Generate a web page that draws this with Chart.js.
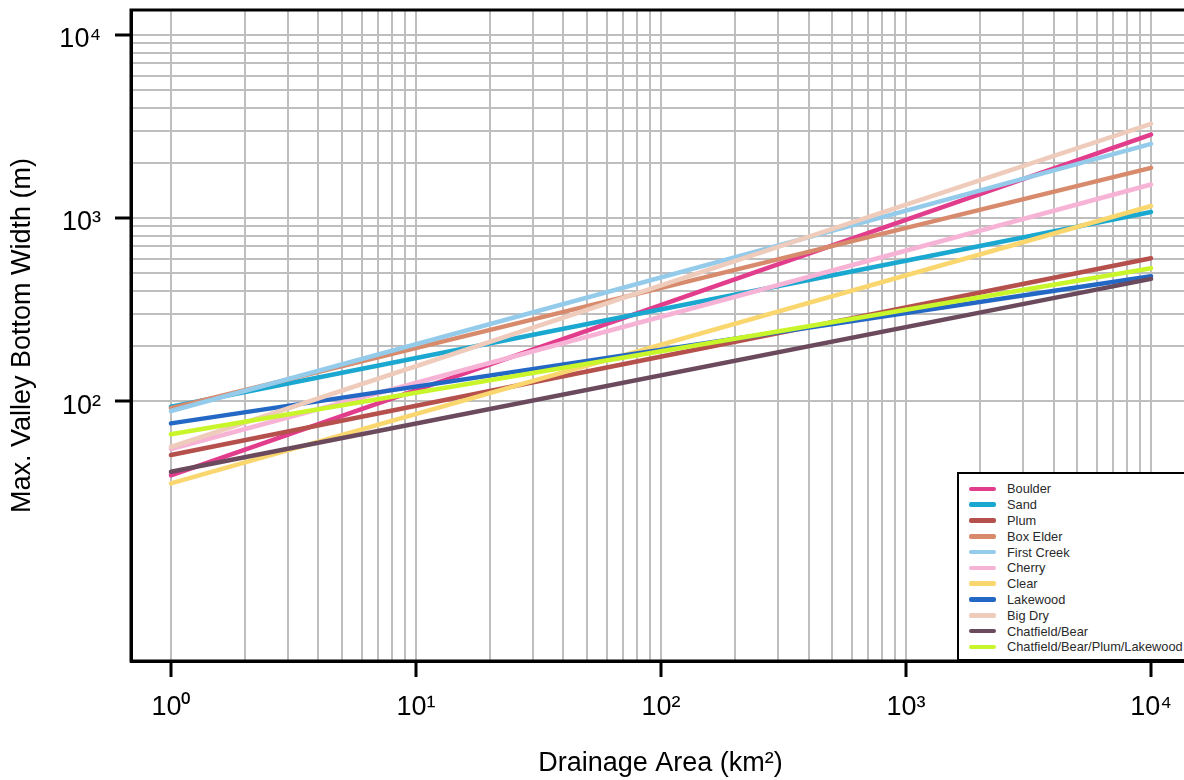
<!DOCTYPE html>
<html>
<head>
<meta charset="utf-8">
<script src="https://cdn.jsdelivr.net/npm/chart.js@4/dist/chart.umd.min.js"></script>
<style>
  html, body { margin: 0; padding: 0; background: #fff; overflow: hidden; }
  #wrap { position: absolute; left: 0; top: 0; width: 1200px; height: 780px; }
  #legenda {
    position: absolute; left: 957px; top: 472px; width: 260px; height: 189px;
    border: 2px solid #000; background: #fff; box-sizing: border-box;
    padding-top: 7px; font-family: "Liberation Sans", Arial, sans-serif;
    font-size: 12.8px; color: #2a2a2a;
  }
  .linha { display: flex; align-items: center; height: 15.8px; }
  .amostra { width: 27px; height: 4.5px; border-radius: 2px; margin-left: 10px; margin-right: 11px; }
</style>
</head>
<body>
<div id="wrap"><canvas id="grafico"></canvas></div>
<div id="legenda"></div>
<script>
// drainage area endpoints (km2)
const areas = [1, 10000];

const nomes = ['Boulder', 'Sand', 'Plum', 'Box Elder', 'First Creek', 'Cherry', 'Clear',
               'Lakewood', 'Big Dry', 'Chatfield/Bear', 'Chatfield/Bear/Plum/Lakewood'];
const cores = ['#E23C8C', '#1AA8D0', '#B5504C', '#D88A6C', '#95CBEA', '#F7B3D5', '#FAD66E',
               '#2468C6', '#EECBBB', '#6A4A5C', '#C9F52B'];

// max valley bottom width (m) at area = 1 and area = 10^4
const boulder = [39.3, 2860];
const sand = [93.1, 1078];
const plum = [50.7, 603];
const boxElder = [91.5, 1880];
const firstCreek = [88.2, 2543];
const cherry = [54.7, 1524];
const clear = [35.5, 1163];
const lakewood = [75.5, 481];
const bigDry = [56.1, 3273];
const chatfieldBear = [41.1, 465];
const chatfieldTodos = [65.8, 532];
const series = [boulder, sand, plum, boxElder, firstCreek, cherry, clear,
                lakewood, bigDry, chatfieldBear, chatfieldTodos];

// grid / tick values
const xTicks = [1,2,3,4,5,6,7,8,9, 10,20,30,40,50,60,70,80,90,
                100,200,300,400,500,600,700,800,900, 1000,2000,3000,4000,5000,6000,7000,8000,9000, 10000];
const yTicks = [100,200,300,400,500,600,700,800,900, 1000,2000,3000,4000,5000,6000,7000,8000,9000, 10000];
const xLabels = {1: '10\u2070', 10: '10\u00b9', 100: '10\u00b2', 1000: '10\u00b3', 10000: '10\u2074'};
const yLabels = {100: '10\u00b2', 1000: '10\u00b3', 10000: '10\u2074'};

const fonte = '"Liberation Sans", Arial, sans-serif';

const datasets = series.map((s, i) => {
    return {
        label: nomes[i],
        data: s.map((v, j) => ({x: areas[j], y: v})),
        borderColor: cores[i],
        borderWidth: 4.5,
        borderCapStyle: 'round',
        pointRadius: 0,
        order: -i
    }
});

const moldura = {
    id: 'moldura',
    afterDraw: (chart) => {
        const a = chart.chartArea;
        const ctx = chart.ctx;
        ctx.save();
        ctx.strokeStyle = '#000';
        ctx.lineWidth = 3;
        ctx.strokeRect(a.left, a.top, a.right - a.left, a.bottom - a.top);
        ctx.restore();
    }
};

const eixo = (valores, rotulos) => {
    return {
        type: 'logarithmic',
        afterBuildTicks: (scale) => {
            scale.ticks = valores.map(v => ({value: v}));
        },
        ticks: {
            autoSkip: false,
            maxRotation: 0,
            padding: 14,
            color: '#000',
            font: {family: fonte, size: 27},
            callback: (value) => rotulos[value] || ''
        },
        grid: {
            color: '#BEBEBE',
            lineWidth: 2,
            tickLength: 16,
            tickWidth: 3,
            tickColor: (ctx) => rotulos[ctx.tick.value] ? '#000' : 'rgba(0,0,0,0)'
        },
        border: {display: true, color: '#000', width: 3}
    }
};

const eixoX = eixo(xTicks, xLabels);
eixoX.min = 0.687;
eixoX.max = 14420;
eixoX.afterFit = (scale) => {
    scale.height = 119;
    scale.paddingLeft = 0;
    scale.paddingRight = 0;
};
eixoX.title = {display: true, text: 'Drainage Area (km\u00b2)', color: '#000',
               font: {family: fonte, size: 27}, padding: {top: 0, bottom: 0}};

const eixoY = eixo(yTicks, yLabels);
eixoY.min = 3.80;
eixoY.max = 13696;
eixoY.ticks.labelOffset = 5;
eixoY.afterFit = (scale) => {
    scale.width = 131;
    scale.paddingTop = 0;
    scale.paddingBottom = 0;
};
eixoY.title = {display: true, text: 'Max. Valley Bottom Width (m)', color: '#000',
               font: {family: fonte, size: 27}, padding: {top: 6, bottom: 0}};

const grafico = new Chart(document.getElementById('grafico'), {
    type: 'line',
    data: {datasets: datasets},
    options: {
        responsive: true,
        maintainAspectRatio: false,
        animation: false,
        layout: {padding: {top: 10, left: 0, right: 10, bottom: 0}},
        plugins: {legend: {display: false}, tooltip: {enabled: false}},
        scales: {x: eixoX, y: eixoY}
    },
    plugins: [moldura]
});

// legend box in the lower right corner
const legenda = document.getElementById('legenda');
grafico.data.datasets.forEach((ds) => {
    let linha = document.createElement('div');
    linha.className = 'linha';
    linha.innerHTML = '<span class="amostra" style="background:' + ds.borderColor + '"></span><span>' + ds.label + '</span>';
    legenda.appendChild(linha);
});
</script>
</body>
</html>
